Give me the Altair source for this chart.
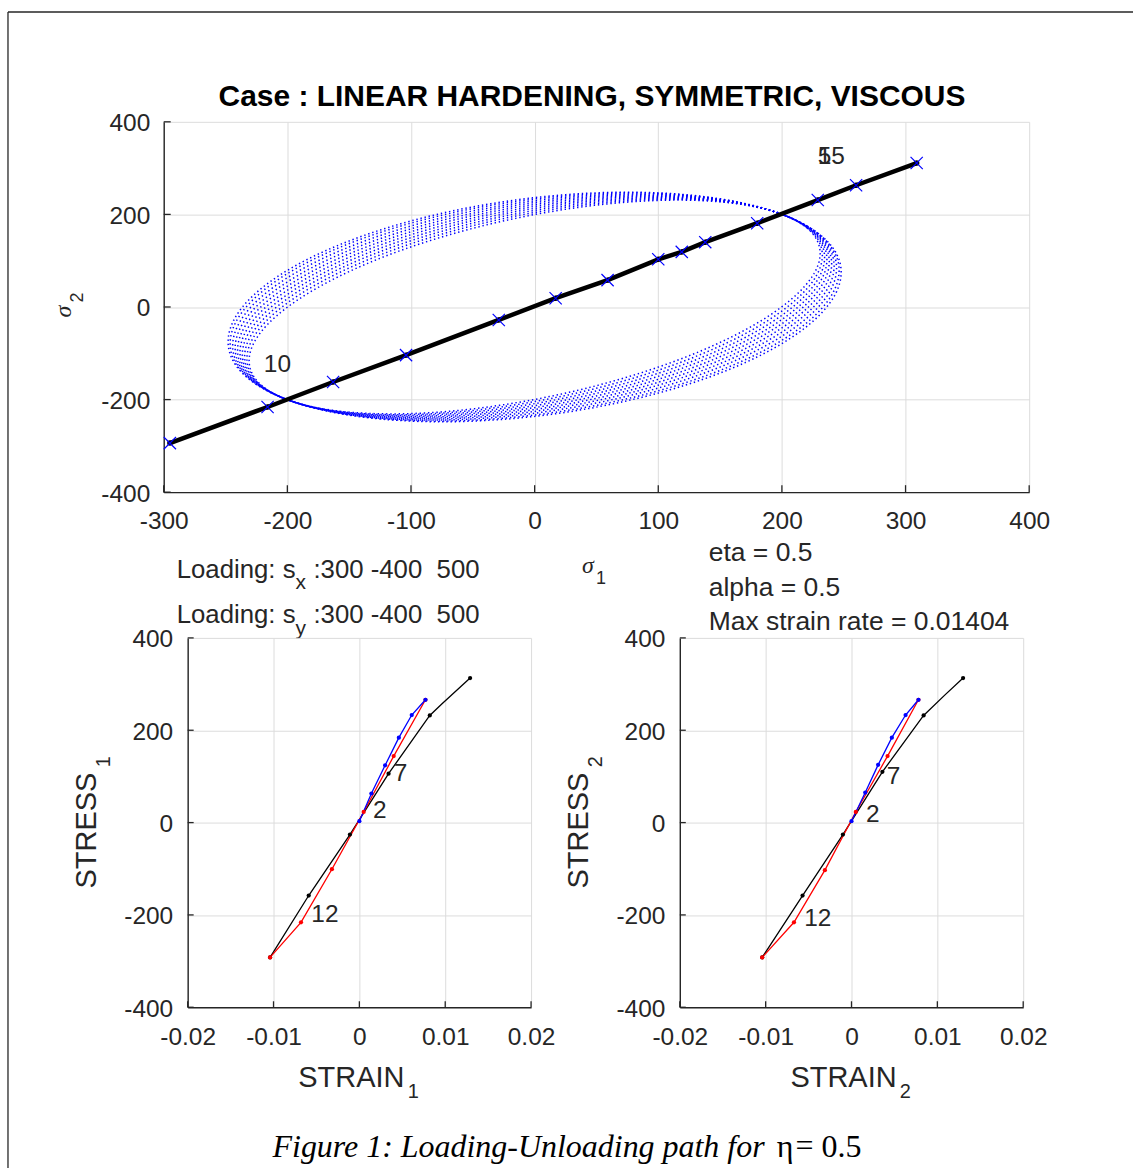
import altair as alt
import numpy as np
import pandas as pd

# ---------------- data: top panel (sigma1 - sigma2 plane) ----------------
path_s1 = [-295, -216, -163, -104, -29, 17, 59, 100, 119, 138, 180, 229, 260, 309]
path_s2 = [-294, -216, -162, -104, -28, 19, 58, 103, 119, 140, 181, 231, 263, 311]
ell_major = 283                      # semi-axis along sigma1 = sigma2
ell_minor = [163, 168, 173, 178, 183, 188, 193, 198, 203, 207]  # across the diagonal
top_lbl_text = ["10", "15", "5"]
top_lbl_s1 = [-219, 229, 229]
top_lbl_s2 = [-125, 324, 324]
top_xticks = [-300, -200, -100, 0, 100, 200, 300, 400]
top_yticks = [-400, -200, 0, 200, 400]

# ---------------- data: bottom panels (strain - stress) ----------------
bl_blue_e = [0.0, 0.0014, 0.0030, 0.0046, 0.0061, 0.0077]
bl_blue_s = [3, 63, 124, 184, 233, 266]
bl_red_e = [0.0077, 0.0040, 0.0005, -0.0032, -0.0068, -0.0104]
bl_red_s = [266, 144, 23, -101, -216, -292]
bl_black_e = [-0.0104, -0.0059, -0.0011, 0.0034, 0.0082, 0.0096, 0.0129]
bl_black_s = [-292, -158, -26, 106, 232, 257, 313]
bl_black_dot = [1, 1, 1, 1, 1, 0, 1]
bl_lbl_text = ["7", "2", "12"]
bl_lbl_e = [0.0040, 0.0016, -0.0056]
bl_lbl_s = [106, 24, -201]

br_blue_e = [0.0, 0.0016, 0.0031, 0.0047, 0.0063, 0.0078]
br_blue_s = [3, 65, 125, 184, 233, 266]
br_red_e = [0.0078, 0.0042, 0.0005, -0.0031, -0.0067, -0.0104]
br_red_s = [266, 144, 23, -103, -216, -292]
br_black_e = [-0.0104, -0.0057, -0.0010, 0.0036, 0.0084, 0.0108, 0.0130]
br_black_s = [-292, -158, -26, 110, 232, 275, 313]
br_black_dot = [1, 1, 1, 1, 1, 0, 1]
br_lbl_text = ["7", "2", "12"]
br_lbl_e = [0.0041, 0.0017, -0.0055]
br_lbl_s = [99, 17, -208]

bot_xticks = [-0.02, -0.01, 0, 0.01, 0.02]
bot_yticks = [-400, -200, 0, 200, 400]

# ---------------- style ----------------
SANS = "Liberation Sans"
SERIF = "Liberation Serif"
AX = "#262626"
GRID = "#dcdcdc"
TICKFS = 24.5
TXTFS = 25.8
BLUE = "#0000ff"
RED = "#ff0000"
LABEL_EXPR = "datum.value < 0 ? '-' + abs(datum.value) : '' + datum.value"

TOP_W, TOP_H = 867, 371
BOT_W, BOT_H = 344, 370

one = pd.DataFrame({"a": [0]})


def txt(s, x, y, size=TXTFS, font=SANS, align="left", baseline="middle", color=AX, **kw):
    return alt.Chart(one).mark_text(
        text=s, fontSize=size, font=font, align=align, baseline=baseline, color=color, **kw
    ).encode(x=alt.value(x), y=alt.value(y))


def hrule(x1, x2, y, color=AX, width=1.3):
    return alt.Chart(one).mark_rule(color=color, strokeWidth=width).encode(
        x=alt.value(x1), x2=alt.value(x2), y=alt.value(y))


def vrule(x, y1, y2, color=AX, width=1.3):
    return alt.Chart(one).mark_rule(color=color, strokeWidth=width).encode(
        x=alt.value(x), y=alt.value(y1), y2=alt.value(y2))


def axis(values, pad, orient, offset=0):
    return alt.Axis(values=values, labelExpr=LABEL_EXPR, grid=True, gridColor=GRID,
                    gridWidth=1, domainColor=AX, domainWidth=1.4, ticks=False, tickSize=0,
                    labelFont=SANS, labelFontSize=TICKFS, labelColor=AX,
                    labelPadding=pad, title=None, orient=orient, labelFlush=False,
                    labelOverlap=False, labelOffset=offset)


# ---------------- top panel ----------------
xs_top = alt.Scale(domain=[-300, 400], nice=False, zero=False)
ys_top = alt.Scale(domain=[-400, 400], nice=False, zero=False)

rows = []
t = np.linspace(0, 2 * np.pi, 361)
for k, b in enumerate(ell_minor):
    u = ell_major * np.cos(t)
    v = b * np.sin(t)
    for i in range(len(t)):
        rows.append({"e": k, "i": i, "s1": (u[i] - v[i]) / np.sqrt(2), "s2": (u[i] + v[i]) / np.sqrt(2)})
ell_df = pd.DataFrame(rows)

path_df = pd.DataFrame({"s1": path_s1, "s2": path_s2})
top_lbl_df = pd.DataFrame({"s1": top_lbl_s1, "s2": top_lbl_s2, "t": top_lbl_text})

base_top = alt.Chart(path_df).encode(
    x=alt.X("s1:Q", scale=xs_top, axis=axis(top_xticks, 17, "bottom")),
    y=alt.Y("s2:Q", scale=ys_top, axis=axis(top_yticks, 14, "left", 2)),
)

ellipses = alt.Chart(ell_df).mark_line(color=BLUE, strokeWidth=1.5, strokeDash=[1.4, 2.8]).encode(
    x=alt.X("s1:Q", scale=xs_top), y=alt.Y("s2:Q", scale=ys_top),
    detail="e:N", order="i:Q")

path_line = base_top.mark_line(color="black", strokeWidth=4.5)
path_dots = base_top.mark_circle(color="black", size=30, opacity=1)
path_x = base_top.mark_point(shape="M-1,-1L1,1M-1,1L1,-1", filled=False, color=BLUE,
                             strokeWidth=1.2, size=150, opacity=1)
top_labels = alt.Chart(top_lbl_df).mark_text(font=SANS, fontSize=24.5, align="left",
                                             baseline="middle", color=AX).encode(
    x=alt.X("s1:Q", scale=xs_top), y=alt.Y("s2:Q", scale=ys_top), text="t:N")

xt_df = pd.DataFrame({"v": top_xticks})
yt_df = pd.DataFrame({"v": top_yticks})
top_xt = alt.Chart(xt_df).mark_rule(color=AX, strokeWidth=1.3).encode(
    x=alt.X("v:Q", scale=xs_top), y=alt.value(TOP_H), y2=alt.value(TOP_H - 7))
top_yt = alt.Chart(yt_df).mark_rule(color=AX, strokeWidth=1.3).encode(
    y=alt.Y("v:Q", scale=ys_top), x=alt.value(0), x2=alt.value(7))

OX, OY = 163, 121  # absolute origin of top plot


def R(ax, ay):
    return ax - OX, ay - OY


annots = [
    # page bounding helper (white) and frame
    hrule(-163, 0, -120.5, color="white", width=1),
    vrule(R(7, 0)[0], R(0, 11)[1], R(0, 1169)[1]),
    hrule(R(7, 0)[0], R(1134, 0)[0], R(0, 11)[1]),
    txt("Case : LINEAR HARDENING, SYMMETRIC, VISCOUS", *R(592, 96), size=30,
        align="center", fontWeight="bold", color="black"),
    txt("σ", *R(588, 566), size=24, font=SERIF, align="center", fontStyle="italic"),
    txt("1", *R(601, 579), size=18, align="center"),
    txt("σ", *R(63, 311), size=24, font=SERIF, align="center", fontStyle="italic", angle=270),
    txt("2", *R(77, 297), size=18, align="center", angle=270),
    txt("Loading: s", *R(176, 570)),
    txt("x", *R(295, 583), size=21),
    txt(":300 -400\u00a0\u00a0500", *R(313, 570)),
    txt("Loading: s", *R(176, 615)),
    txt("y", *R(295, 629), size=21),
    txt(":300 -400\u00a0\u00a0500", *R(313, 615)),
    txt("eta = 0.5", *R(709, 553), size=26.5),
    txt("alpha = 0.5", *R(709, 588), size=26.5),
    txt("Max strain rate = 0.01404", *R(709, 622), size=26.5),
    txt("Figure 1: Loading-Unloading path for", *R(272, 1148), size=32, font=SERIF,
        fontStyle="italic", color="black"),
    txt("η", *R(777, 1148), size=32, font=SERIF, color="black"),
    txt("=", *R(796, 1147), size=32, font=SERIF, color="black"),
    txt("0.5", *R(822, 1148), size=32, font=SERIF, color="black"),
]

top = alt.layer(ellipses, path_line, path_dots, path_x, top_labels, top_xt, top_yt,
                *annots).properties(width=TOP_W, height=TOP_H)


# ---------------- bottom panels ----------------
def bottom(be, bs, re_, rs, ke, ks, kd, le, ls, lt, sub, ox):
    xs = alt.Scale(domain=[-0.02, 0.02], nice=False, zero=False)
    ys = alt.Scale(domain=[-400, 400], nice=False, zero=False)
    rows = []
    for name, es, ss, ds in (("black", ke, ks, kd), ("red", re_, rs, [1] * len(re_)),
                             ("blue", be, bs, [1] * len(be))):
        for i, (e, s, d) in enumerate(zip(es, ss, ds)):
            rows.append({"ser": name, "i": i, "e": e, "s": s, "dot": d})
    df = pd.DataFrame(rows)
    col = alt.Color("ser:N", scale=alt.Scale(domain=["black", "red", "blue"],
                                             range=["black", RED, BLUE]), legend=None)
    base = alt.Chart(df).encode(
        x=alt.X("e:Q", scale=xs, axis=axis(bot_xticks, 18, "bottom")),
        y=alt.Y("s:Q", scale=ys, axis=axis(bot_yticks, 15, "left", 2)),
        color=col, detail="ser:N", order="i:Q")
    lines = base.mark_line(strokeWidth=1.3)
    pts = base.mark_circle(size=18, opacity=1).transform_filter("datum.dot == 1")
    ldf = pd.DataFrame({"e": le, "s": ls, "t": lt})
    labels = alt.Chart(ldf).mark_text(font=SANS, fontSize=24.5, align="left",
                                      baseline="middle", color=AX).encode(
        x=alt.X("e:Q", scale=xs), y=alt.Y("s:Q", scale=ys), text="t:N")
    xt = alt.Chart(pd.DataFrame({"v": bot_xticks})).mark_rule(color=AX, strokeWidth=1.3).encode(
        x=alt.X("v:Q", scale=xs), y=alt.value(BOT_H), y2=alt.value(BOT_H - 6))
    yt = alt.Chart(pd.DataFrame({"v": bot_yticks})).mark_rule(color=AX, strokeWidth=1.3).encode(
        y=alt.Y("v:Q", scale=ys), x=alt.value(0), x2=alt.value(6))
    oy = 638
    dx = ox - 187
    ann = [
        txt("STRESS", 86 + dx - ox, 831 - oy, size=29, align="center", angle=270),
        txt(sub, 103 + dx - ox, 762 - oy, size=20, align="center", angle=270),
        txt("STRAIN", 351 + dx - ox, 1079 - oy, size=29, align="center"),
        txt(sub, 413 + dx - ox, 1093 - oy, size=20, align="center"),
    ]
    return alt.layer(lines, pts, labels, xt, yt, *ann).properties(width=BOT_W, height=BOT_H)


def spacer(w):
    return alt.Chart(one).mark_point(opacity=0).encode(
        x=alt.value(0), y=alt.value(0)).properties(width=w, height=BOT_H)


bl = bottom(bl_blue_e, bl_blue_s, bl_red_e, bl_red_s, bl_black_e, bl_black_s, bl_black_dot,
            bl_lbl_e, bl_lbl_s, bl_lbl_text, "1", 187)
br = bottom(br_blue_e, br_blue_s, br_red_e, br_red_s, br_black_e, br_black_s, br_black_dot,
            br_lbl_e, br_lbl_s, br_lbl_text, "2", 680)

row = alt.hconcat(spacer(24), bl, spacer(149), br, spacing=0, bounds="flush")

chart = alt.vconcat(top, row, spacing=146, bounds="flush").properties(
    padding=0, background="white").configure_view(strokeWidth=0)

chart.save("out.html", embed_options={"renderer": "svg", "actions": False})
